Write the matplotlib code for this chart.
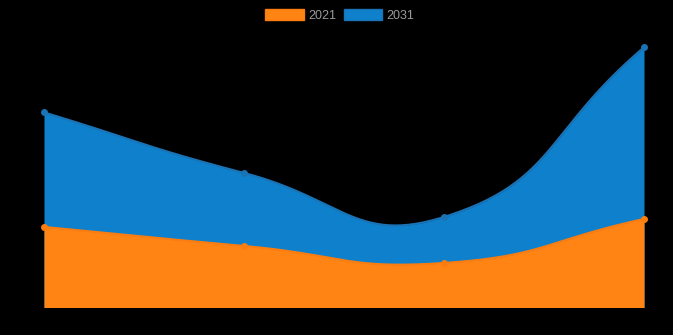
import numpy as np
import matplotlib
matplotlib.use("Agg")
import matplotlib.pyplot as plt
from matplotlib.patches import Patch

categories = ["Q1", "Q2", "Q3", "Q4"]
series_2021 = [8.05, 6.15, 4.45, 8.85]
series_2031 = [19.5, 13.45, 9.05, 26.0]

W, H = 673, 335
fig = plt.figure(figsize=(W / 100, H / 100), dpi=100, facecolor="black")
ax = fig.add_axes([44 / W, (H - 307.5) / H, 600 / W, 260.2 / H])
ax.set_facecolor("black")
ax.set_xlim(0, len(categories) - 1)
ax.set_ylim(0, 26)
ax.axis("off")


def spline_curve(xs, ys, tension=0.5, steps=60):
    # chart.js style bezier, computed in pixel space
    pts = ax.transData.transform(np.column_stack([xs, ys]))
    n = len(pts)
    cps = []
    for i in range(n):
        prev = pts[max(i - 1, 0)]
        cur = pts[i]
        nxt = pts[min(i + 1, n - 1)]
        d01 = np.hypot(*(cur - prev))
        d12 = np.hypot(*(nxt - cur))
        tot = d01 + d12
        s01 = d01 / tot if tot else 0
        s12 = d12 / tot if tot else 0
        fa = tension * s01
        fb = tension * s12
        cps.append((cur - fa * (nxt - prev), cur + fb * (nxt - prev)))
    out = [pts[0]]
    t = np.linspace(0, 1, steps)[1:, None]
    for i in range(n - 1):
        p0, p1, p2, p3 = pts[i], cps[i][1], cps[i + 1][0], pts[i + 1]
        seg = ((1 - t) ** 3) * p0 + 3 * ((1 - t) ** 2) * t * p1 + 3 * (1 - t) * t ** 2 * p2 + t ** 3 * p3
        out.extend(seg)
    out = ax.transData.inverted().transform(np.array(out))
    return out[:, 0], out[:, 1]


x = np.arange(len(categories))
styles = [
    ("2031", series_2031, "#0e80cc", "#1a73b5"),
    ("2021", series_2021, "#ff8413", "#fb7d0f"),
]
for label, vals, fill_c, line_c in styles:
    cx, cy = spline_curve(x, vals)
    ax.fill_between(cx, 0, cy, color=fill_c, lw=0, label=label)
    ax.plot(cx, cy, color=line_c, lw=1.5, solid_capstyle="round")

for label, vals, fill_c, line_c in styles:
    ax.plot(x, vals, "o", ms=4, color=line_c, mec=line_c, clip_on=False, zorder=5)

handles = [Patch(facecolor="#ff8413", edgecolor="#fb7d0f", label="2021"),
           Patch(facecolor="#0e80cc", edgecolor="#1a73b5", label="2031")]
leg = fig.legend(handles=handles, loc="upper center", bbox_to_anchor=(0.505, 1.0),
                 ncol=2, frameon=False, handlelength=3.1, handleheight=1.0,
                 handletextpad=0.35, columnspacing=0.6, borderaxespad=0.3,
                 prop={"family": "Liberation Sans", "size": 9})
for txt in leg.get_texts():
    txt.set_color("#9a9a9a")

fig.savefig("out.png", dpi=100, facecolor="black")
